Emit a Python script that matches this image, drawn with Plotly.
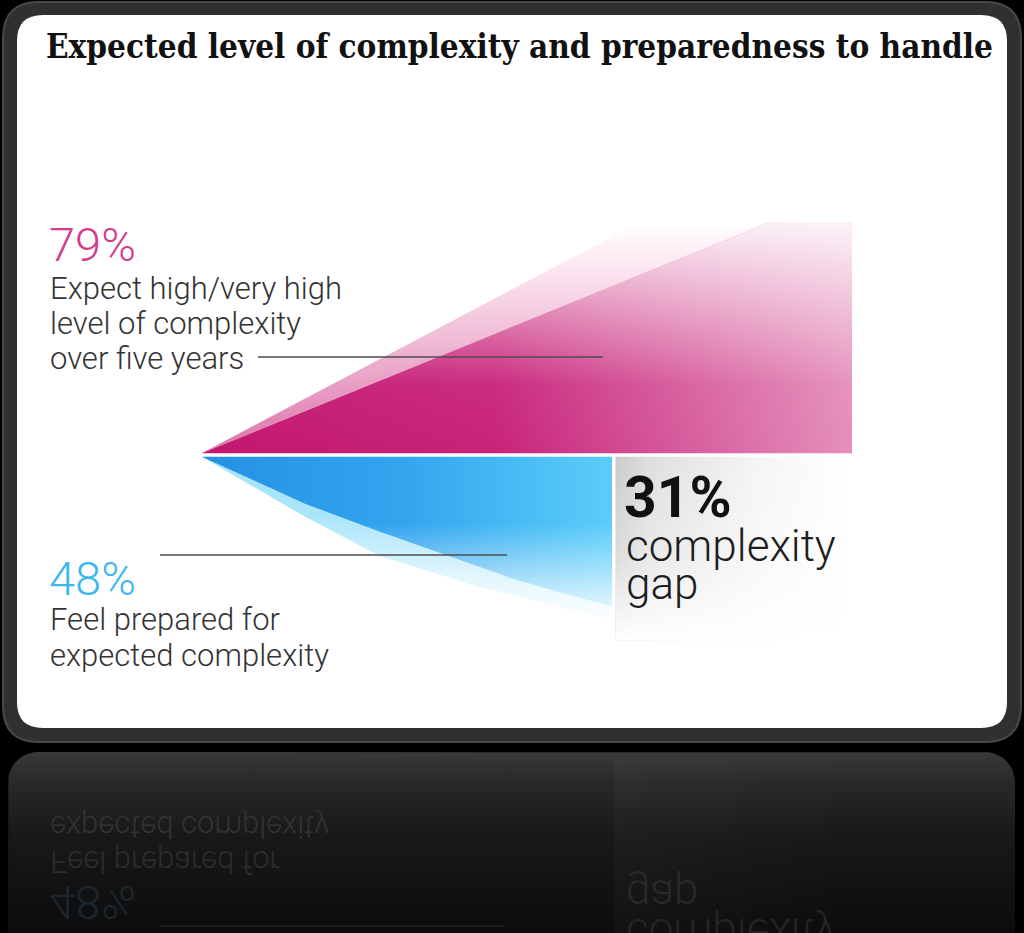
import numpy as np
import plotly.graph_objects as go

# ---------------- data ----------------
title = "Expected level of complexity and preparedness to handle"
series_names = ["Expect high/very high level of complexity over five years",
                "Feel prepared for expected complexity"]
values = [79, 48]                      # percent
value_labels = ["79%", "48%"]
desc_lines = [["Expect high/very high", "level of complexity", "over five years"],
              ["Feel prepared for", "expected complexity"]]
gap_value = values[0] - values[1]      # 31
gap_lines = [f"{gap_value}%", "complexity", "gap"]

PINK_TXT = "#d43d8c"
BLUE_TXT = "#3db8ee"
TXT = "#333333"

W, H = 1024, 933
# pixel <-> data mapping for the single full-page axis
X0, XS = 240.4, 7.742
Y0, YS = 455.0, 2.95
def px2x(px): return (px - X0) / XS
def py2y(py): return (Y0 - py) / YS
def xp(px): return px / W          # paper coords
def yp(py): return 1 - py / H

apex = -5.0      # tip of both wedges
g = 0.6          # half of white separator

fig = go.Figure()

def add_poly(xs, ys, grad_type, cscale, start, stop):
    fig.add_trace(go.Scatter(
        x=list(xs) + [xs[0]], y=list(ys) + [ys[0]], mode="lines", fill="toself",
        line=dict(width=0), hoverinfo="skip", showlegend=False,
        fillgradient=dict(type=grad_type, colorscale=cscale, start=start, stop=stop)))

# ---------------- reflection backdrop ----------------
def rounded_top(x1, y1, x2, y2, r):
    pts = [(x1, y2)]
    for a in np.linspace(np.pi, np.pi / 2, 12):
        pts.append((x1 + r + r * np.cos(a), y1 + r - r * np.sin(a)))
    for a in np.linspace(np.pi / 2, 0, 12):
        pts.append((x2 - r + r * np.cos(a), y1 + r - r * np.sin(a)))
    pts.append((x2, y2))
    return [px2x(p[0]) for p in pts], [py2y(p[1]) for p in pts]

rx, ry = rounded_top(8, 752, 1015, 960, 30)
add_poly(rx, ry, "vertical",
         [[0, "#0c0c0c"], [0.55, "#191919"], [0.85, "#2a2a2a"], [1, "#3a3a3a"]],
         py2y(933), py2y(752))
# faint reflection of the gap panel
add_poly([px2x(614), px2x(850), px2x(850), px2x(614)],
         [py2y(760), py2y(760), py2y(933), py2y(933)], "horizontal",
         [[0, "rgba(255,255,255,0.025)"], [1, "rgba(255,255,255,0)"]],
         px2x(614), px2x(850))

# ---------------- pink wedge (79%) ----------------
vp = values[0]
add_poly([apex, 0.653 * vp, 0.866 * vp], [g, vp, vp], "vertical",
         [[0, "#dc72a8"], [0.5, "#f0bcd6"], [0.8, "#fbe6f0"], [1, "#ffffff"]], 0, vp)
pxs = [apex, 0.866 * vp, vp, vp]
pys = [g, vp, vp, g]
add_poly(pxs, pys, "horizontal",
         [[0, "#c2166f"], [0.45, "#c8237a"], [1, "#e48fbb"]], apex, vp)
add_poly(pxs, pys, "vertical",
         [[0, "rgba(255,255,255,0)"], [0.3, "rgba(255,255,255,0.04)"],
          [1, "rgba(255,255,255,0.9)"]], 0, vp)

# ---------------- blue wedge (48%) ----------------
vb = values[1]
span = vb - apex
dark_prof = [(0.25, 0.33), (0.434, 0.53), (0.6, 0.7), (0.758, 0.86), (0.88, 0.96), (1.0, 1.05)]
light_prof = [(0.25, 0.42), (0.434, 0.70), (0.677, 0.92), (0.92, 1.10), (1.0, 1.16)]
lx = [apex] + [apex + f * span for f, _ in light_prof] + [apex + f * span for f, _ in dark_prof[::-1]]
ly = [-g] + [-g - d * vb for _, d in light_prof] + [-g - d * vb for _, d in dark_prof[::-1]]
add_poly(lx, ly, "vertical",
         [[0, "#ffffff"], [0.4, "#e2f7fd"], [1, "#a8e5f9"]], -g - 1.16 * vb, -g - 0.4 * vb)
bx = [apex] + [apex + f * span for f, _ in dark_prof] + [vb]
by = [-g] + [-g - d * vb for _, d in dark_prof] + [-g]
add_poly(bx, by, "horizontal",
         [[0, "#2590e3"], [0.5, "#33a6ef"], [1, "#5bcdf9"]], apex, vb)
add_poly(bx, by, "vertical",
         [[0, "rgba(255,255,255,0.8)"], [0.3, "rgba(255,255,255,0.35)"],
          [0.55, "rgba(255,255,255,0)"], [1, "rgba(255,255,255,0)"]], -g - 1.05 * vb, -g)

# ---------------- gap panel (31%) ----------------
gx = [vb + 0.45, vp, vp, vb + 0.45]
gy = [-g, -g, -g - 1.3 * vb, -g - 1.3 * vb]
add_poly(gx, gy, "horizontal",
         [[0, "#c8c8c8"], [0.15, "#dedede"], [0.6, "#f5f5f5"], [1, "#ffffff"]], vb, vp)
add_poly(gx, gy, "vertical",
         [[0, "rgba(255,255,255,1)"], [0.45, "rgba(255,255,255,0.35)"],
          [1, "rgba(255,255,255,0)"]], -g - 1.3 * vb, -g)

# ---------------- card shapes ----------------
def rr_path(x1, y1, x2, y2, r):
    X1, X2 = xp(x1), xp(x2)
    Y1, Y2 = yp(y1), yp(y2)
    rx_, ry_ = r / W, r / H
    return (f"M {X1 + rx_},{Y1} L {X2 - rx_},{Y1} Q {X2},{Y1} {X2},{Y1 - ry_} "
            f"L {X2},{Y2 + ry_} Q {X2},{Y2} {X2 - rx_},{Y2} L {X1 + rx_},{Y2} "
            f"Q {X1},{Y2} {X1},{Y2 + ry_} L {X1},{Y1 - ry_} Q {X1},{Y1} {X1 + rx_},{Y1} Z")

shapes = [
    dict(type="path", path=rr_path(3, 2, 1021, 742, 36), xref="paper", yref="paper",
         fillcolor="#303030", line=dict(color="#484848", width=2), layer="below"),
    dict(type="path", path=rr_path(17, 15, 1007, 728, 26), xref="paper", yref="paper",
         fillcolor="#ffffff", line=dict(width=0), layer="below"),
    # leader lines
    dict(type="line", xref="paper", yref="paper", x0=xp(258), x1=xp(603), y0=yp(357), y1=yp(357),
         line=dict(color="#4d4d4d", width=1.6), layer="above"),
    dict(type="line", xref="paper", yref="paper", x0=xp(160), x1=xp(507), y0=yp(555), y1=yp(555),
         line=dict(color="#4d4d4d", width=1.6), layer="above"),
    # reflected leader line
    dict(type="line", xref="paper", yref="paper", x0=xp(160), x1=xp(505), y0=yp(926), y1=yp(926),
         line=dict(color="#222222", width=1.6), layer="above"),
]

BODY = "Roboto"
anns = []
def ann(text, x, y, size, color, family=BODY, weight=300, name=None, xanchor="left"):
    d = dict(text=text, x=xp(x), y=yp(y), xref="paper", yref="paper", showarrow=False,
             xanchor=xanchor, yanchor="middle",
             font=dict(family=family, size=size, color=color, weight=weight))
    if name:
        d["name"] = name
    anns.append(d)

ann(title, 44, 46, 33, "#111111", family="DejaVu Serif Condensed, DejaVu Serif", weight=700)
ann(value_labels[0], 47, 245, 47, PINK_TXT)
for i, t in enumerate(desc_lines[0]):
    ann(t, 48, 288 + 35 * i, 31, TXT)
ann(value_labels[1], 47, 578, 47, BLUE_TXT)
for i, t in enumerate(desc_lines[1]):
    ann(t, 48, 619 + 36 * i, 31, TXT)
ann(gap_lines[0], 622, 497, 57, "#111111", weight=700)
ann(gap_lines[1], 624, 546, 44, "#1e1e1e")
ann(gap_lines[2], 624, 584, 44, "#1e1e1e")

# mirrored reflection texts
ann(desc_lines[1][1], 48, 826, 31, "#333333", name="mirror")
ann(desc_lines[1][0], 48, 861, 31, "#2d2d2d", name="mirror")
ann(value_labels[1], 47, 902, 47, "#1c262e", name="mirror")
ann(gap_lines[2], 624, 895, 44, "#292929", name="mirror")
ann(gap_lines[1], 624, 934, 44, "#242424", name="mirror")

fig.update_layout(
    width=W, height=H, margin=dict(l=0, r=0, t=0, b=0),
    paper_bgcolor="#000000", plot_bgcolor="rgba(0,0,0,0)",
    xaxis=dict(range=[px2x(0), px2x(W)], visible=False, fixedrange=True),
    yaxis=dict(range=[py2y(H), py2y(0)], visible=False, fixedrange=True),
    shapes=shapes, annotations=anns, showlegend=False,
)

post = """
var gd = document.getElementById('{plot_id}');
function flipMirror(){
  var A = (gd.layout.annotations || []);
  gd.querySelectorAll('g.annotation').forEach(function(gg){
    var i = +gg.getAttribute('data-index');
    if (A[i] && A[i].name === 'mirror') {
      var t = gg.querySelector('text');
      if (t) { t.style.transformBox = 'fill-box'; t.style.transformOrigin = '50% 50%';
               t.style.transform = 'scaleY(-1)'; }
    }
  });
}
flipMirror();
if (gd.on) { gd.on('plotly_afterplot', flipMirror); }
"""
fig.write_html("out.html", post_script=post, config={"staticPlot": True})
